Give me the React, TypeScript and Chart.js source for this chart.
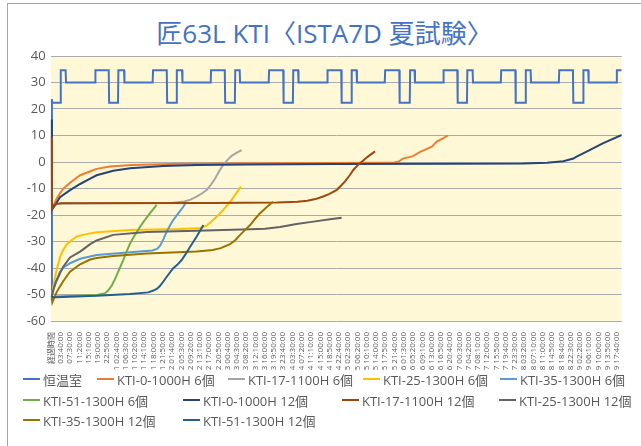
import React, { useEffect, useRef } from "react";
import { Chart, registerables } from "chart.js";

Chart.register(...registerables);

const TITLE = "匠63L KTI〈ISTA7D 夏試験〉";

const X_TICK_LABELS = [
  "経過時間", "03:40:00", "07:30:00", "11:20:00", "15:10:00", "19:00:00", "22:50:00",
  "1 02:40:00", "1 06:30:00", "1 10:20:00", "1 14:10:00", "1 18:00:00", "1 21:50:00",
  "2 01:40:00", "2 05:30:00", "2 09:20:00", "2 13:10:00", "2 17:00:00", "2 20:50:00",
  "3 00:40:00", "3 04:30:00", "3 08:20:00", "3 12:10:00", "3 16:00:00", "3 19:50:00", "3 23:40:00",
  "4 03:30:00", "4 07:20:00", "4 11:10:00", "4 15:00:00", "4 18:50:00", "4 22:40:00",
  "5 02:30:00", "5 06:20:00", "5 10:10:00", "5 14:00:00", "5 17:50:00", "5 21:40:00",
  "6 01:30:00", "6 05:20:00", "6 09:10:00", "6 13:00:00", "6 16:50:00", "6 20:40:00",
  "7 00:30:00", "7 04:20:00", "7 08:10:00", "7 12:00:00", "7 15:50:00", "7 19:40:00", "7 23:30:00",
  "8 03:20:00", "8 07:10:00", "8 11:00:00", "8 14:50:00", "8 18:40:00", "8 22:30:00",
  "9 02:20:00", "9 06:10:00", "9 10:00:00", "9 13:50:00", "9 17:40:00",
];
// one category every 10 minutes; a label every 23 categories
const POINTS_PER_LABEL = 23;
const LAST_INDEX = 1415;

const Y_MIN = -60;
const Y_MAX = 40;
const Y_STEP = 10;

const SERIES_NAMES = [
  "恒温室", "KTI-0-1000H 6個", "KTI-17-1100H 6個", "KTI-25-1300H 6個", "KTI-35-1300H 6個",
  "KTI-51-1300H 6個", "KTI-0-1000H 12個", "KTI-17-1100H 12個", "KTI-25-1300H 12個",
  "KTI-35-1300H 12個", "KTI-51-1300H 12個",
];

// [category index, °C]
const CHAMBER: [number, number][] = [
  [0, -51], [1, 23.7], [2, 22.4], [22, 22.4], [23, 34.6], [35, 34.6], [36, 30],
  [108, 30], [109, 34.6], [142, 34.6], [143, 22.4], [165, 22.4], [166, 34.6], [180, 34.6], [181, 30],
  [251, 30], [252, 34.6], [286, 34.6], [287, 22.4], [310, 22.4], [311, 34.6], [324, 34.6], [325, 30],
  [395, 30], [396, 34.6], [430, 34.6], [431, 22.4], [455, 22.4], [456, 34.6], [467, 34.6], [468, 30],
  [539, 30], [540, 34.6], [575, 34.6], [576, 22.4], [599, 22.4], [600, 34.6], [612, 34.6], [613, 30],
  [684, 30], [685, 34.6], [719, 34.6], [720, 22.4], [744, 22.4], [745, 34.6], [757, 34.6], [758, 30],
  [827, 30], [828, 34.6], [863, 34.6], [864, 22.4], [889, 22.4], [890, 34.6], [901, 34.6], [902, 30],
  [972, 30], [973, 34.6], [1007, 34.6], [1008, 22.4], [1031, 22.4], [1032, 34.6], [1045, 34.6], [1046, 30],
  [1115, 30], [1116, 34.6], [1151, 34.6], [1152, 22.4], [1176, 22.4], [1177, 34.6], [1189, 34.6], [1190, 30],
  [1259, 30], [1260, 34.6], [1294, 34.6], [1295, 22.4], [1319, 22.4], [1320, 34.6], [1332, 34.6], [1333, 30],
  [1402, 30], [1403, 34.6], [1415, 34.6],
];

const KTI_0_1000H_6: [number, number][] = [
  [0, -18], [5, -16.5], [12, -14], [21, -11.8], [30, -10], [46, -7.8], [71, -5], [95, -3.6],
  [112, -2.6], [145, -1.7], [200, -1.1], [320, -0.7], [500, -0.5], [700, -0.4], [850, -0.2],
  [862, 0.2], [872, 1.3], [897, 2.2], [915, 3.8], [944, 5.8], [956, 7.7], [970, 8.8], [984, 10],
];

const KTI_17_1100H_6: [number, number][] = [
  [0, -18], [5, -16.5], [12, -15.9], [25, -15.7], [100, -15.6], [250, -15.5], [300, -15.4],
  [330, -14.9], [345, -14.2], [360, -13.1], [373, -11.9], [385, -10.6], [396, -8.5], [406, -6.2],
  [416, -3.5], [426, -1.1], [437, 0.8], [447, 2.3], [460, 3.5], [472, 4.5],
];

const KTI_25_1300H_6: [number, number][] = [
  [0, -51], [3, -48.5], [8, -44], [13, -40.5], [17, -38.2], [22, -35.5], [29, -33.2], [38, -31],
  [46, -30], [62, -28.2], [80, -27.4], [112, -26.5], [195, -25.7], [319, -25.3], [370, -24.9],
  [385, -24], [401, -21.9], [414, -20], [426, -18.1], [447, -14.3], [470, -9.3],
];

const KTI_35_1300H_6: [number, number][] = [
  [0, -51], [5, -48], [11, -45], [21, -41.5], [30, -39.8], [46, -38.2], [71, -36.5], [112, -35.1],
  [195, -34.1], [250, -33.4], [262, -32.8], [270, -31.5], [278, -29], [286, -26.3], [294, -24],
  [302, -21.9], [315, -19.3], [327, -16.9], [335, -15],
];

const KTI_51_1300H_6: [number, number][] = [
  [0, -51], [10, -50.8], [60, -50.5], [112, -50.2], [132, -49.6], [140, -48.6], [150, -46.5],
  [158, -44], [168, -40.5], [178, -37], [187, -33.5], [195, -30.7], [208, -27.3], [220, -24.4],
  [232, -21.8], [244, -19.4], [261, -16.2],
];

const KTI_0_1000H_12: [number, number][] = [
  [0, 16], [1, -18], [8, -16.5], [21, -13.3], [46, -10.6], [71, -8.3], [96, -6.3], [112, -5],
  [153, -3.3], [195, -2.4], [277, -1.5], [360, -1.1], [484, -0.9], [700, -0.8], [1000, -0.7],
  [1170, -0.6], [1230, -0.3], [1270, 0.3], [1295, 1.3], [1303, 2], [1328, 3.9], [1368, 7], [1415, 10.2],
];

const KTI_17_1100H_12: [number, number][] = [
  [0, 9.5], [1, -18], [5, -16.5], [12, -15.8], [25, -15.6], [400, -15.5], [560, -15.3], [610, -15],
  [635, -14.6], [655, -14], [674, -13], [690, -12], [708, -10.5], [720, -8.7], [728, -7.4],
  [740, -5], [749, -3], [760, -1.2], [770, 0.1], [780, 1.4], [790, 2.6], [803, 4],
];

const KTI_25_1300H_12: [number, number][] = [
  [0, -51], [5, -48], [12, -45], [21, -42], [29, -39.5], [46, -36], [71, -33.8], [96, -31],
  [112, -29.6], [153, -27.5], [236, -26.4], [360, -25.9], [493, -25.4], [530, -25.2], [567, -24.5],
  [608, -23.4], [650, -22.5], [691, -21.6], [720, -21],
];

const KTI_35_1300H_12: [number, number][] = [
  [0, -51], [2, -53], [6, -51.5], [13, -49], [21, -47], [29, -45], [46, -41.4], [71, -38.6],
  [96, -36.8], [112, -36.2], [153, -35.5], [236, -34.5], [360, -33.8], [400, -33.2], [420, -32.5],
  [443, -31], [456, -29.5], [468, -27.5], [480, -25.7], [493, -23.8], [505, -21.5], [517, -19.4],
  [533, -17.2], [550, -15],
];

const KTI_51_1300H_12: [number, number][] = [
  [0, -51], [10, -51], [112, -50.5], [195, -49.8], [240, -49.2], [253, -48.5], [262, -47.8],
  [269, -46.8], [278, -45], [286, -43.3], [302, -40.1], [312, -38.8], [323, -37], [334, -34.5],
  [344, -32], [360, -28.2], [377, -23.8],
];

const SERIES_VALUES = [
  CHAMBER, KTI_0_1000H_6, KTI_17_1100H_6, KTI_25_1300H_6, KTI_35_1300H_6, KTI_51_1300H_6,
  KTI_0_1000H_12, KTI_17_1100H_12, KTI_25_1300H_12, KTI_35_1300H_12, KTI_51_1300H_12,
];

const COLORS = [
  "#4472C4", "#ED7D31", "#A5A5A5", "#FFC000", "#5B9BD5", "#70AD47",
  "#264478", "#9E480E", "#636363", "#997300", "#255E91",
];

// legend layout: [series index, left x, row center y]
const LEGEND_LAYOUT: [number, number, number][] = [
  [0, 23, 379], [1, 97, 379], [2, 228, 379], [3, 363, 379], [4, 500, 379],
  [5, 23, 400], [6, 183, 400], [7, 342, 400], [8, 499, 400],
  [9, 23, 420], [10, 183, 420],
];

const FONT = "'Open Sans', 'Noto Sans CJK JP', sans-serif";
const TEXT_COLOR = "#595959";

const plotBackground = {
  id: "plotBackground",
  beforeDraw(chart: any) {
    const { ctx, chartArea: a } = chart;
    ctx.save();
    ctx.fillStyle = "#FFF8D6";
    ctx.fillRect(a.left, a.top, a.right - a.left, a.bottom - a.top);
    ctx.restore();
  },
};

export default function App() {
  const canvasRef = useRef<HTMLCanvasElement>(null);

  useEffect(() => {
    const canvas = canvasRef.current;
    if (!canvas) return;
    const chart = new Chart(canvas, {
      type: "line",
      data: {
        datasets: SERIES_VALUES.map((values, i) => ({
          label: SERIES_NAMES[i],
          data: values.map(([x, y]) => ({ x, y })),
          borderColor: COLORS[i],
          backgroundColor: COLORS[i],
          borderWidth: 2,
          pointRadius: 0,
          tension: 0,
          fill: false,
          order: 100 - i,
        })),
      },
      options: {
        animation: false,
        responsive: false,
        devicePixelRatio: 1,
        layout: { padding: { left: 10.7, right: 19.3, top: 56, bottom: 75 } },
        plugins: {
          legend: { display: false },
          title: { display: false },
          tooltip: { enabled: false },
        },
        scales: {
          x: {
            type: "linear",
            min: -2,
            max: LAST_INDEX,
            grid: { display: false },
            border: { display: false },
            afterBuildTicks: (scale: any) => {
              scale.ticks = X_TICK_LABELS.map((_, i) => ({ value: i * POINTS_PER_LABEL }));
            },
            afterFit: (scale: any) => {
              scale.height = 50;
            },
            ticks: {
              autoSkip: false,
              minRotation: 90,
              maxRotation: 90,
              padding: 3,
              color: TEXT_COLOR,
              font: { family: FONT, size: 8 },
              callback: (_v: any, index: number) => X_TICK_LABELS[index],
            },
          },
          y: {
            min: Y_MIN,
            max: Y_MAX,
            grid: { color: "#ABABAB", drawTicks: false, lineWidth: 1 },
            border: { display: false },
            afterFit: (scale: any) => {
              scale.width = 40;
            },
            ticks: {
              stepSize: Y_STEP,
              padding: 5,
              color: TEXT_COLOR,
              font: { family: FONT, size: 13 },
            },
          },
        },
      },
      plugins: [plotBackground],
    });
    return () => chart.destroy();
  }, []);

  return (
    <div style={{ position: "fixed", inset: 0, overflow: "hidden", background: "#fff" }}>
      <div
        style={{
          position: "absolute",
          left: 7,
          top: 3,
          width: 720,
          height: 520,
          border: "1px solid #A6A6A6",
          boxSizing: "border-box",
        }}
      />
      <div
        style={{
          position: "absolute",
          left: 8,
          width: 633,
          top: 16,
          textAlign: "center",
          fontFamily: FONT,
          fontSize: 26,
          lineHeight: "34px",
          color: "#4472C4",
          whiteSpace: "nowrap",
        }}
      >
        {TITLE}
      </div>
      <canvas
        ref={canvasRef}
        width={641}
        height={446}
        style={{ position: "absolute", left: 0, top: 0, width: 641, height: 446 }}
      />
      {LEGEND_LAYOUT.map(([si, x, y]) => (
        <div
          key={si}
          style={{
            position: "absolute",
            left: x,
            top: y - 9,
            height: 18,
            display: "flex",
            alignItems: "center",
            whiteSpace: "nowrap",
            fontFamily: FONT,
            fontSize: 13,
            color: TEXT_COLOR,
          }}
        >
          <span style={{ display: "inline-block", width: 17, height: 2, background: COLORS[si], marginRight: 3 }} />
          <span>{SERIES_NAMES[si]}</span>
        </div>
      ))}
    </div>
  );
}
